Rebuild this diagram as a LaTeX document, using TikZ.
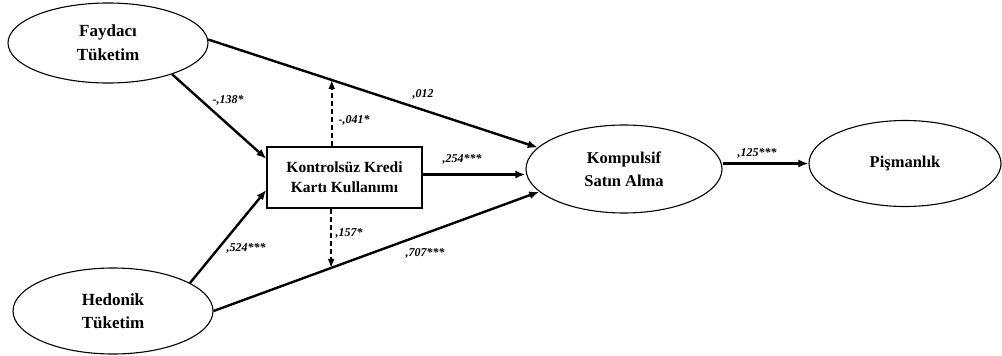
\documentclass[tikz,border=0pt]{standalone}
\usepackage{fontspec}
\setmainfont{Liberation Serif}
\usetikzlibrary{shapes.geometric,arrows.meta,calc}
\begin{document}
\begin{tikzpicture}[x=1pt,y=-1pt,
  lat/.style={ellipse,draw,line width=1.1pt,inner sep=0pt,align=center},
  mbox/.style={rectangle,draw,line width=1.3pt,inner sep=0pt,align=center,minimum width=155pt,minimum height=61pt},
  path/.style={line width=2.4pt,-{Latex[length=10pt,width=8pt]}},
  dpath/.style={line width=2pt,dashed,dash pattern=on 5pt off 3pt,-{Latex[length=9pt,width=7pt]}},
  coef/.style={font=\fontsize{12}{14}\selectfont\bfseries\itshape,inner sep=0pt}
]
\useasboundingbox (0,0) rectangle (1002,356);
\node[lat,minimum width=200pt,minimum height=80pt,font=\fontsize{17}{24}\selectfont\bfseries] (fay) at (108,43) {Faydacı\\Tüketim};
\node[lat,minimum width=200pt,minimum height=86pt,font=\fontsize{17}{23}\selectfont\bfseries] (hed) at (113,311) {Hedonik\\Tüketim};
\node[mbox,font=\fontsize{15.5}{20}\selectfont\bfseries] (box) at (344.5,177.5) {Kontrolsüz Kredi\\Kartı Kullanımı};
\node[lat,minimum width=196pt,minimum height=88pt,font=\fontsize{16.5}{23}\selectfont\bfseries] (kom) at (624,169) {Kompulsif\\Satın Alma};
\node[lat,minimum width=192pt,minimum height=86pt,font=\fontsize{16.5}{23}\selectfont\bfseries] (pis) at (905,163.5) {Pişmanlık};

\coordinate (bx) at ($(box.east)+(0,-3)$);
\draw[path] (fay.2) -- coordinate[pos=0.375] (m1) (kom.166);
\draw[path] (hed.0) -- coordinate[pos=0.361] (m2) (kom.195);
\draw[path] (fay.-26) -- ($(box.north west)!0.2!(box.south west)$);
\draw[path] (hed.20) -- ($(box.north west)!0.7!(box.south west)$);
\draw[path] (bx) -- (bx -| kom.west);
\draw[path] (pis.west -| kom.east) -- (pis.west);
\draw[dpath] (m1 |- box.north) -- (m1);
\draw[dpath] (m2 |- box.south) -- (m2);

\node[coef] (c1) at (228,100) {-,138*};
\node[coef] (c2) at (354,120) {-,041*};
\node[coef] (c3) at (423,94) {,012};
\node[coef] (c4) at (462,159) {,254***};
\node[coef] (c5) at (349,233) {,157*};
\node[coef] (c6) at (425,253) {,707***};
\node[coef] (c7) at (246,248) {,524***};
\node[coef] (c8) at (757,153) {,125***};
\end{tikzpicture}
\end{document}
